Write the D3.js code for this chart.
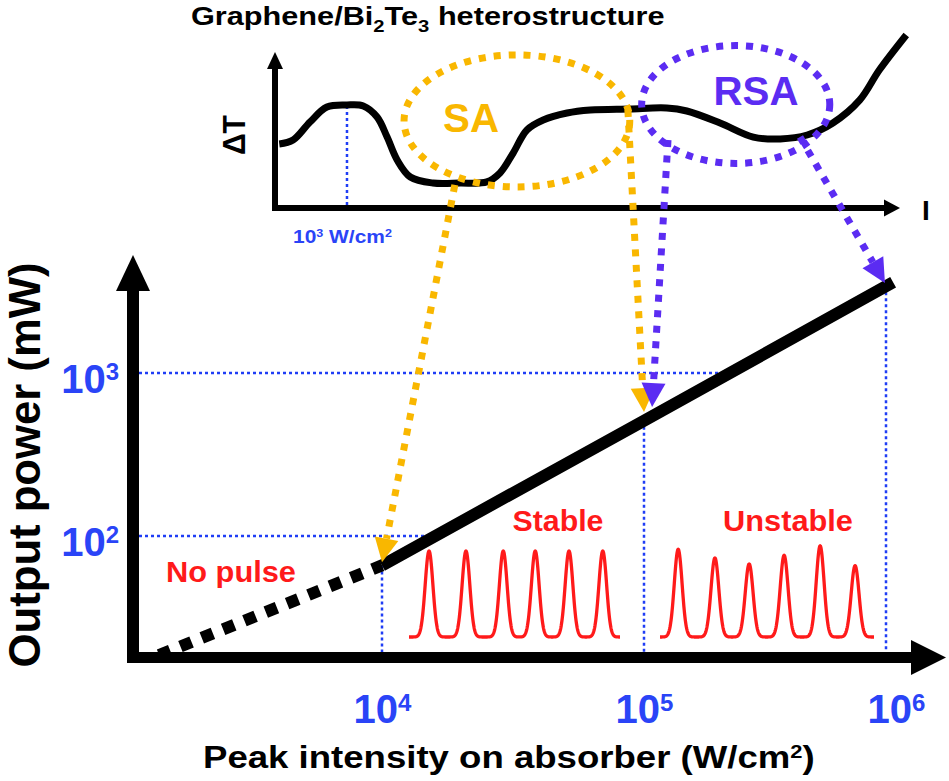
<!DOCTYPE html>
<html><head><meta charset="utf-8">
<script src="https://cdn.jsdelivr.net/npm/d3@7"></script>
<style>
body{margin:0;background:#fff}
svg{display:block}
text{font-family:"Liberation Sans",Arial,Helvetica,sans-serif;font-weight:bold}
</style>
</head><body>
<svg id="c" width="949" height="781"></svg>
<script>
// ---------------- data ----------------
const xTickValues = [1e4, 1e5, 1e6];
const xTickExps = ["4", "5", "6"];
const yTickValues = [1e2, 1e3];
const yTickExps = ["2", "3"];

// output power (mW) vs peak intensity (W/cm2)
const solidIntensity = [1e4, 1e5, 1.07e6];
const solidPower = [66, 510, 3600];
const dashedIntensity = [1410, 1e4];
const dashedPower = [18.6, 66];

// inset: ΔT vs I (arbitrary units)
const insetI  = [1.0, 3.2, 5.9, 8.6, 11.8, 14.4, 16.6, 18.2, 19.8, 21.9, 25.5, 29.8, 34.1, 36.2, 38.3, 40.5, 43.1, 46.9, 50.6, 56.9, 62.8, 66.0, 71.3, 76.6, 80.9, 85.2, 89.3, 93.6, 96.7, 101.0];
const insetDT = [40.5, 43.0, 54.4, 63.9, 65.2, 64.6, 57.6, 44.9, 30.4, 19.6, 15.8, 15.8, 16.5, 22.2, 34.8, 49.4, 55.7, 60.1, 62.0, 62.7, 63.3, 61.4, 53.8, 44.9, 43.7, 46.2, 53.8, 68.4, 87.3, 109.5];
const insetMarkI = 11.8, insetMarkDT = 65.0;

// SA / RSA regions in the inset
const regionNames = ["SA", "RSA"];
const regionCenterI = [38.9, 73.8];
const regionCenterDT = [55.1, 65.5];
const regionRadiusI = [18.0, 15.0];
const regionRadiusDT = [41.8, 37.3];

// arrows: start on inset curve, end on the power line
const arrowRegion = ["SA", "SA", "RSA", "RSA"];
const arrowStartI = [29.0, 56.6, 63.0, 84.05];
const arrowStartDT = [14.6, 62.0, 43.0, 44.9];
const arrowEndIntensity = [1e4, 1e5, 1.08e5, 9.9e5];
const arrowEndPower = [69, 576, 618, 3565];

// pulse trains (time in pulse periods, normalized amplitude)
const stableTimes = [0.57, 1.62, 2.68, 3.59, 4.55, 5.51];
const stableAmps = [1, 1, 1, 1, 1, 1];
const unstableTimes = [0.51, 1.54, 2.50, 3.48, 4.49, 5.47];
const unstableAmps = [1.02, 0.92, 0.85, 0.95, 1.06, 0.83];

// ---------------- style ----------------
const C = {black:"#000", yellow:"#f9b700", purple:"#5b2cf2", red:"#ff1a1a", blueText:"#2a44f7", blueDot:"#1f3df5"};
const regionColor = {SA: C.yellow, RSA: C.purple};

const svg = d3.select("#c");

// ---------------- scales ----------------
const x = d3.scaleLog().domain([1e4, 1e5, 1e6]).range([382, 644, 886]);
const y = d3.scaleLog().domain([1e2, 1e3]).range([536, 373]);
const ix = d3.scaleLinear().domain([0, 100]).range([273, 900]);
const iy = d3.scaleLinear().domain([0, 100]).range([208, 50]);
const yAxisX = 133, xAxisY = 657.5;

// log-log interpolation along the solid line
function powerAt(I){
  const lI = Math.log10(I);
  for (let i=0;i<solidIntensity.length-1;i++){
    const a=Math.log10(solidIntensity[i]), b=Math.log10(solidIntensity[i+1]);
    if (lI>=a-1e-9 && lI<=b+1e-9){const t=(lI-a)/(b-a);
      return Math.pow(10, Math.log10(solidPower[i])+t*(Math.log10(solidPower[i+1])-Math.log10(solidPower[i])));}
  }
  return solidPower[solidPower.length-1];
}
function intensityAt(P){
  const lP = Math.log10(P);
  for (let i=0;i<solidPower.length-1;i++){
    const a=Math.log10(solidPower[i]), b=Math.log10(solidPower[i+1]);
    if (lP>=a && lP<=b){const t=(lP-a)/(b-a);
      return Math.pow(10, Math.log10(solidIntensity[i])+t*(Math.log10(solidIntensity[i+1])-Math.log10(solidIntensity[i])));}
  }
  return solidIntensity[0];
}

// ---------------- text helper ----------------
function label(parent, o){
  const t = parent.append("text").attr("font-size", o.size).attr("fill", o.color||C.black)
    .attr("text-anchor", o.anchor||"start");
  const s = o.size;
  let shift = 0;
  o.parts.forEach(p=>{
    const [str, kind] = Array.isArray(p)?p:[p,null];
    const ts = t.append("tspan").text(str);
    let target = 0, fs = null;
    if (kind==="sup"){target = -0.31*s; fs = 0.6*s;}
    else if (kind==="sub"){target = 0.27*s; fs = 0.66*s;}
    if (fs) ts.attr("font-size", fs);
    const d = target - shift;
    if (d!==0) ts.attr("dy", d);
    shift = target;
  });
  let sx = o.sx||1;
  if (o.fit){ const w = t.node().getBBox().width; sx = o.fit / w; }
  t.attr("transform", `translate(${o.x},${o.y}) rotate(${o.rotate||0}) scale(${sx},${o.sy||1})`);
  return t;
}

// ---------------- guide lines ----------------
const guides = svg.append("g").attr("stroke", C.blueDot).attr("stroke-width", 2.5).attr("stroke-dasharray", "3,3").attr("fill","none");
yTickValues.forEach(v=>{
  guides.append("line").attr("x1", yAxisX+6).attr("x2", x(intensityAt(v))).attr("y1", y(v)).attr("y2", y(v));
});
xTickValues.forEach(v=>{
  guides.append("line").attr("x1", x(v)).attr("x2", x(v)).attr("y1", y(powerAt(v))).attr("y2", xAxisY-5);
});

// ---------------- pulse trains ----------------
function pulseTrain(times, amps, range){
  const px = d3.scaleLinear().domain([0, 6]).range(range);
  const py = d3.scaleLinear().domain([0, 1]).range([637, 551]);
  const sigma = 0.11;
  const ts = d3.range(0, 6.0001, 0.01);
  const pts = ts.map(t=>[t, d3.sum(times, (tc,i)=>amps[i]*Math.exp(-((t-tc)**2)/(2*sigma*sigma)))]);
  svg.append("path").attr("d", d3.line().x(d=>px(d[0])).y(d=>py(d[1]))(pts))
    .attr("fill","none").attr("stroke", C.red).attr("stroke-width", 3.3).attr("stroke-linejoin","round");
}
pulseTrain(stableTimes, stableAmps, [409, 620]);
pulseTrain(unstableTimes, unstableAmps, [660, 874]);

// ---------------- main line ----------------
const mainLine = d3.line().x(d=>x(d[0])).y(d=>y(d[1]));
svg.append("path").attr("d", mainLine(dashedIntensity.map((v,i)=>[v, dashedPower[i]])))
  .attr("fill","none").attr("stroke", C.black).attr("stroke-width", 12).attr("stroke-dasharray","12,11");
svg.append("path").attr("d", mainLine(solidIntensity.map((v,i)=>[v, solidPower[i]])))
  .attr("fill","none").attr("stroke", C.black).attr("stroke-width", 12);

// ---------------- main axes ----------------
const ax = svg.append("g").attr("fill", C.black);
ax.append("rect").attr("x", yAxisX-6).attr("y", 288).attr("width", 12).attr("height", 663-288);
ax.append("path").attr("d", `M${yAxisX},255 L${yAxisX+17},291 L${yAxisX-17},291 Z`);
ax.append("rect").attr("x", yAxisX-6).attr("y", xAxisY-5.5).attr("width", 914-(yAxisX-6)).attr("height", 11);
ax.append("path").attr("d", `M946,${xAxisY} L911,${xAxisY-17.5} L911,${xAxisY+17.5} Z`);

// x tick labels
const xAx = svg.append("g").attr("transform", "translate(0,723)")
  .call(d3.axisBottom(x).tickValues(xTickValues).tickSize(0).tickPadding(0).tickFormat(()=>""));
xAx.attr("font-size", null).attr("font-family", null);
xAx.select(".domain").remove();
xAx.selectAll(".tick").each(function(d,i){
  const g = d3.select(this); g.select("text").remove();
  label(g, {x: i===2 ? 10 : 0, y:0, size:40, anchor:"middle", color:C.blueText, parts:["10", [xTickExps[i], "sup"]]});
});
// y tick labels
const yAx = svg.append("g").attr("transform", "translate(119,0)")
  .call(d3.axisLeft(y).tickValues(yTickValues).tickSize(0).tickPadding(0).tickFormat(()=>""));
yAx.attr("font-size", null).attr("font-family", null);
yAx.select(".domain").remove();
yAx.selectAll(".tick").each(function(d,i){
  const g = d3.select(this); g.select("text").remove();
  label(g, {x:0, y:19, size:40, anchor:"end", color:C.blueText, parts:["10", [yTickExps[i], "sup"]]});
});

// axis titles
label(svg, {x:203, y:768, size:31, fit:612, parts:["Peak intensity on absorber (W/cm", ["2","sup"], ")"]});
label(svg, {x:40, y:465, size:40, anchor:"middle", rotate:-90, fit:405, sy:1.12, parts:["Output power (mW)"]});

// region labels in main chart
label(svg, {x:558, y:531, size:29, anchor:"middle", color:C.red, fit:91, parts:["Stable"]});
label(svg, {x:788, y:531, size:29, anchor:"middle", color:C.red, fit:130, parts:["Unstable"]});
label(svg, {x:231, y:582, size:29, anchor:"middle", color:C.red, fit:130, parts:["No pulse"]});

// ---------------- inset ----------------
const inset = svg.append("g");
inset.append("line").attr("x1", ix(insetMarkI)).attr("x2", ix(insetMarkI)).attr("y1", iy(0)-3).attr("y2", iy(insetMarkDT))
  .attr("stroke", C.blueDot).attr("stroke-width", 2.5).attr("stroke-dasharray","3,3");
// inset axes
inset.append("rect").attr("x", ix(0)-1).attr("y", 66).attr("width", 6).attr("height", 211-66).attr("fill", C.black);
inset.append("path").attr("d", `M${ix(0)+2},52 L${ix(0)+10},69 L${ix(0)-6},69 Z`).attr("fill", C.black);
inset.append("rect").attr("x", ix(0)-1).attr("y", iy(0)-3).attr("width", 887-ix(0)).attr("height", 6).attr("fill", C.black);
inset.append("path").attr("d", `M${ix(100)},${iy(0)} L${ix(100)-16},${iy(0)-8.5} L${ix(100)-16},${iy(0)+8.5} Z`).attr("fill", C.black);
// curve
inset.append("path").attr("d", d3.line().x((d,i)=>ix(insetI[i])).y((d,i)=>iy(insetDT[i])).curve(d3.curveCatmullRom.alpha(0.5))(insetI))
  .attr("fill","none").attr("stroke", C.black).attr("stroke-width", 7);
// regions
regionNames.forEach((n,i)=>{
  inset.append("ellipse").attr("cx", ix(regionCenterI[i])).attr("cy", iy(regionCenterDT[i]))
    .attr("rx", ix(regionCenterI[i]+regionRadiusI[i])-ix(regionCenterI[i]))
    .attr("ry", iy(regionCenterDT[i])-iy(regionCenterDT[i]+regionRadiusDT[i]))
    .attr("fill","none").attr("stroke", regionColor[n]).attr("stroke-width", 7).attr("stroke-dasharray","7,8");
});

// arrows
function arrow(p0, p1, color){
  const dx=p1[0]-p0[0], dy=p1[1]-p0[1], L=Math.hypot(dx,dy), ux=dx/L, uy=dy/L;
  const headL=24, headW=12;
  const b=[p1[0]-ux*headL, p1[1]-uy*headL];
  svg.append("line").attr("x1", p0[0]).attr("y1", p0[1]).attr("x2", b[0]).attr("y2", b[1])
    .attr("stroke", color).attr("stroke-width", 7).attr("stroke-dasharray","7,8.5");
  svg.append("path").attr("d", `M${p1[0]},${p1[1]} L${b[0]-uy*headW},${b[1]+ux*headW} L${b[0]+uy*headW},${b[1]-ux*headW} Z`).attr("fill", color);
}
arrowRegion.forEach((r,i)=>{
  arrow([ix(arrowStartI[i]), iy(arrowStartDT[i])], [x(arrowEndIntensity[i]), y(arrowEndPower[i])], regionColor[r]);
});

// inset texts
label(svg, {x:191, y:25, size:26, sx:1.18, parts:["Graphene/Bi", ["2","sub"], ["Te",null], ["3","sub"], [" heterostructure", null]]});
label(svg, {x:245, y:135, size:28, anchor:"middle", rotate:-90, fit:40, sy:1.15, parts:["ΔT"]});
label(svg, {x:926, y:220, size:28, anchor:"middle", parts:["I"]});
label(svg, {x:293, y:243, size:18, fit:99, color:C.blueText, parts:["10", ["3","sup"], [" W/cm",null], ["2","sup"]]});
label(svg, {x:471, y:132, size:40, anchor:"middle", color:C.yellow, fit:56, parts:["SA"]});
label(svg, {x:756, y:105, size:40, anchor:"middle", color:C.purple, fit:85, parts:["RSA"]});
</script>
</body></html>
